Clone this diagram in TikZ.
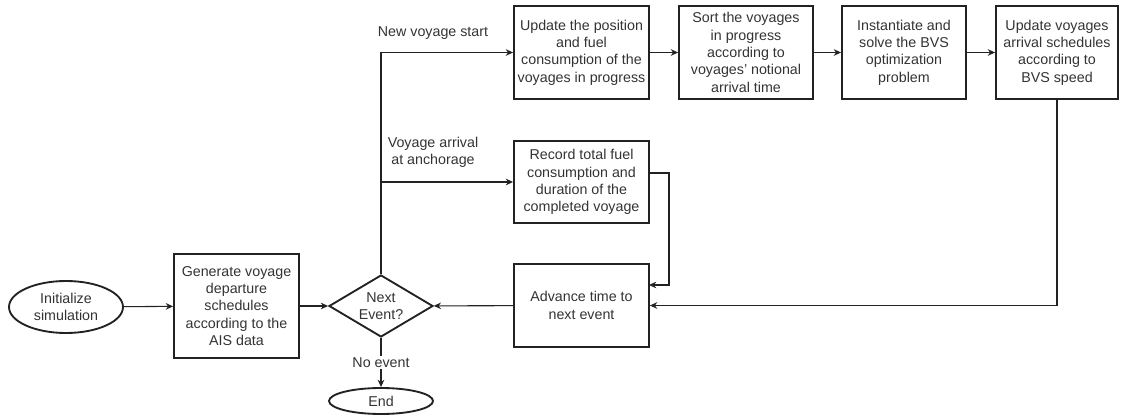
\documentclass[tikz,border=0pt]{standalone}
\usepackage{fontspec}
\setmainfont{Liberation Sans}
\usetikzlibrary{shapes.geometric,arrows.meta}
\definecolor{ln}{HTML}{222222}
\definecolor{tx}{HTML}{333333}
\tikzset{
  base/.style={draw=ln, line width=1.4pt, align=center, text=tx, font=\fontsize{10.7pt}{13pt}\selectfont, inner sep=0pt},
  term/.style={base, ellipse},
  conn/.style={draw=ln, line width=0.8pt, -{Stealth[length=5.5pt,width=5pt]}},
  lbl/.style={text=tx, align=center, font=\fontsize{10.7pt}{13pt}\selectfont, inner sep=1pt}
}
\begin{document}
\begin{tikzpicture}[x=0.75pt,y=-0.75pt]
\useasboundingbox (0,0) rectangle (1124,416);
% nodes
\node[term, minimum width=114*0.75pt, minimum height=52*0.75pt] (init) at (66,307) {Initialize\\simulation};
\node[base, minimum width=125*0.75pt, minimum height=104*0.75pt] (gen) at (236.5,306) {Generate voyage\\departure\\schedules\\according to the\\AIS data};
\node[base, diamond, minimum width=104*0.75pt, minimum height=62*0.75pt, aspect=1.68] (dcs) at (381,306) {};
\node[lbl] (dtxt) at (381,306) {Next\\Event?};
\node[term, minimum width=104*0.75pt, minimum height=26*0.75pt] (endn) at (381,401) {End};
\node[base, minimum width=135*0.75pt, minimum height=93*0.75pt] (upd) at (581.5,52.5) {Update the position\\and fuel\\consumption of the\\voyages in progress};
\node[base, minimum width=134*0.75pt, minimum height=93*0.75pt] (sort) at (746,52.5) {Sort the voyages\\in progress\\according to\\voyages' notional\\arrival time};
\node[base, minimum width=124*0.75pt, minimum height=93*0.75pt] (inst) at (904,52.5) {Instantiate and\\solve the BVS\\optimization\\problem};
\node[base, minimum width=122*0.75pt, minimum height=93*0.75pt] (updv) at (1057,52.5) {Update voyages\\arrival schedules\\according to\\BVS speed};
\node[base, minimum width=135*0.75pt, minimum height=82*0.75pt] (rec) at (581.5,182) {Record total fuel\\consumption and\\duration of the\\completed voyage};
\node[base, minimum width=135*0.75pt, minimum height=83*0.75pt] (adv) at (581.5,305.5) {Advance time to\\next event};
% labels
\node[lbl] (l1) at (433,33) {New voyage start};
\node[lbl] (l2) at (433,152) {Voyage arrival\\at anchorage};
% connectors
\coordinate (br) at (381,182);
\coordinate (recout) at (649,173);
\coordinate (recturn) at (669,173);
\coordinate (advin) at (649,285);
\draw[conn] (init) -- (gen);
\draw[conn] (gen) -- (dcs);
\draw[conn] (dcs.north) |- (upd.west);
\draw[conn] (br) -- (rec.west);
\draw[conn] (upd) -- (sort);
\draw[conn] (sort) -- (inst);
\draw[conn] (inst) -- (updv);
\draw[conn] (updv.south) |- (adv.east);
\draw[conn] (recout) -- (recturn) |- (advin);
\draw[conn] (adv) -- (dcs);
\draw[conn] (dcs.south) -- (endn.north) node[lbl, fill=white, pos=0.5] {No event};
\end{tikzpicture}
\end{document}
